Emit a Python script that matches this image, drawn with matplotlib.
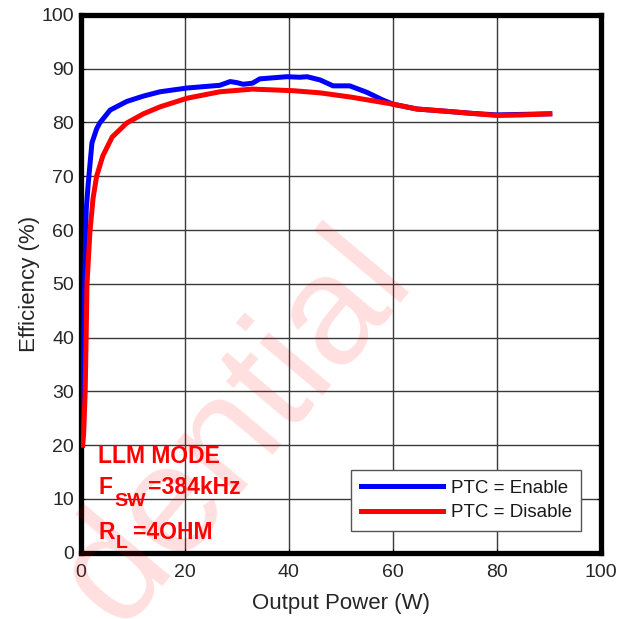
import matplotlib
matplotlib.use("Agg")
import matplotlib.pyplot as plt

plt.rcParams['font.family'] = ['Liberation Sans', 'DejaVu Sans']

# efficiency data
p_enable = [0.3, 0.6, 1.0, 1.4, 2.1, 3.0, 3.6, 5.6, 8.8, 12.0, 15.2, 20.4, 25.4, 26.7,
            28.7, 30.0, 31.2, 33.0, 34.4, 37.0, 39.6, 42.1, 43.5, 46.0, 48.5, 51.7,
            55.0, 58.0, 60.0, 64.6, 70.0, 75.0, 80.0, 85.0, 90.2]
eff_enable = [20.0, 45.0, 63.8, 68.8, 76.2, 78.8, 79.9, 82.3, 83.9, 84.9, 85.7, 86.4, 86.8,
              86.9, 87.6, 87.4, 87.1, 87.3, 88.1, 88.3, 88.5, 88.4, 88.5, 87.9, 86.8, 86.8,
              85.6, 84.2, 83.4, 82.5, 82.1, 81.7, 81.4, 81.5, 81.6]

p_disable = [0.3, 0.5, 0.8, 1.0, 1.15, 1.7, 2.3, 3.0, 4.2, 6.0, 8.8, 12.0, 15.2, 20.4,
             26.7, 33.0, 40.8, 46.0, 52.0, 60.0, 64.6, 70.0, 75.0, 80.0, 85.0, 90.2]
eff_disable = [20.0, 22.0, 30.0, 41.0, 50.0, 59.5, 65.8, 70.0, 73.8, 77.3, 79.9, 81.6, 82.9,
               84.5, 85.7, 86.2, 85.9, 85.5, 84.7, 83.4, 82.5, 82.1, 81.7, 81.3, 81.4, 81.6]

fig = plt.figure(figsize=(6.33, 6.19), dpi=100)
ax = fig.add_axes([0.128, 0.107, 0.821, 0.869])

ax.plot(p_enable, eff_enable, color='#0000ff', lw=3.6, label='PTC = Enable', zorder=3)
ax.plot(p_disable, eff_disable, color='#ff0000', lw=3.6, label='PTC = Disable', zorder=4)

ax.set_xlim(0, 100)
ax.set_ylim(0, 100)
ax.set_xticks(range(0, 101, 20))
ax.set_yticks(range(0, 101, 10))
ax.grid(True, color='#3a3a3a', lw=1.0)
ax.tick_params(direction='in', length=3, labelsize=14, labelcolor='#262626',
               top=True, right=True)
ax.tick_params(axis='x', pad=8)
ax.tick_params(axis='y', pad=5)
for s in ax.spines.values():
    s.set_linewidth(3.8)
    s.set_color('black')

ax.set_xlabel('Output Power (W)', fontsize=16, color='#262626', labelpad=9)
ax.set_ylabel('Efficiency (%)', fontsize=16, color='#262626', labelpad=1)

# operating conditions
red_txt = dict(color='#ff0000', fontweight='bold', fontsize=16.5)
ax.text(3.3, 16.7, 'LLM MODE', **red_txt)
ax.text(3.3, 11.0, 'F', **red_txt)
ax.text(6.5, 8.7, 'SW', color='#ff0000', fontweight='bold', fontsize=14)
ax.text(12.9, 11.0, '=384kHz', **red_txt)
ax.text(3.3, 2.6, 'R', **red_txt)
ax.text(6.7, 0.9, 'L', color='#ff0000', fontweight='bold', fontsize=14)
ax.text(10.0, 2.6, '=4OHM', **red_txt)

leg = ax.legend(loc='lower right', bbox_to_anchor=(0.962, 0.041), borderaxespad=0,
                fontsize=13.5, handlelength=4.4, fancybox=False, framealpha=1,
                edgecolor='#555555', borderpad=0.5, labelspacing=0.4, handletextpad=0.4)
leg.get_frame().set_linewidth(1.0)
for t in leg.get_texts():
    t.set_color('#1a1a1a')

# watermark
fig.text(0.655, 0.55, 'dential', fontsize=112, color='#ff0000', alpha=0.13,
         rotation=50, rotation_mode='anchor', ha='right', va='baseline', zorder=10)

fig.savefig('out.png', dpi=100, facecolor='white')
